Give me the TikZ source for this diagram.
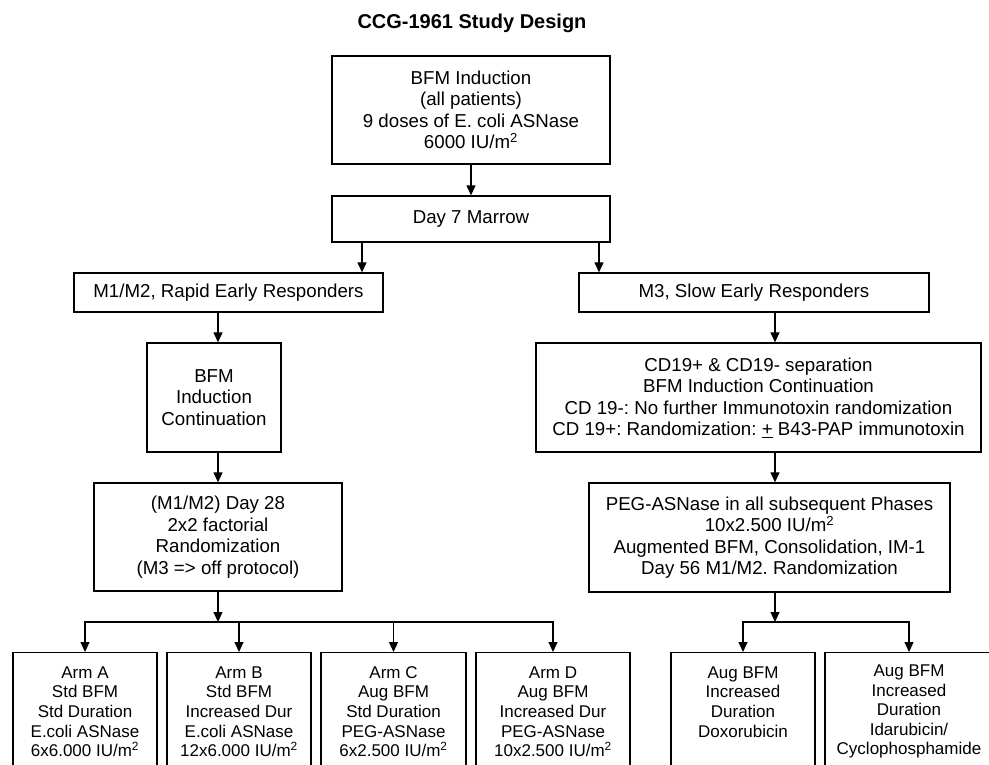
\documentclass[tikz,border=0pt]{standalone}
\usepackage{fontspec}
\setmainfont{Liberation Sans}
\usetikzlibrary{arrows.meta}
\frenchspacing
\newcommand{\upfont}{\fontsize{18.7}{21.5}\selectfont}
\newcommand{\armfont}{\fontsize{17}{19.6}\selectfont}
\newcommand{\sqm}{IU/m\textsuperscript{2}}
\begin{document}
\begin{tikzpicture}[x=1pt,y=-1pt,line width=1.3pt,
  box/.style={draw,align=center,inner sep=0pt,font=\upfont},
  armbox/.style={draw,align=center,inner sep=0pt,anchor=north,minimum width=144pt,minimum height=118pt,font=\armfont},
  arr/.style={-{Triangle[width=9pt,length=10pt]},line width=1.2pt}]
\useasboundingbox (0,0) rectangle (989,765);
\node[font=\fontsize{20}{24}\selectfont\bfseries] (title) at (472,23) {CCG-1961 Study Design};
% induction and marrow
\node[box,minimum width=278pt,minimum height=108pt] (ind) at (471,110) {BFM Induction\\(all patients)\\9 doses of E. coli ASNase\\6000 \sqm};
\node[box,minimum width=278pt,minimum height=46pt] (d7) at (471,219) {Day 7 Marrow};
% left branch
\node[box,minimum width=309pt,minimum height=39pt] (rer) at (228.5,292.5) {M1/M2, Rapid Early Responders};
\node[box,minimum width=134pt,minimum height=109pt] (cont) at (214,397.5) {BFM\\Induction\\Continuation};
\node[box,minimum width=248pt,minimum height=108pt] (d28) at (218,537) {(M1/M2) Day 28\\2x2 factorial\\Randomization\\(M3 => off protocol)};
% right branch
\node[box,minimum width=350pt,minimum height=39pt] (ser) at (754,292.5) {M3, Slow Early Responders};
\node[box,minimum width=445pt,minimum height=109pt] (sep) at (758.5,397.5) {CD19+ \& CD19- separation\\BFM Induction Continuation\\CD 19-: No further Immunotoxin randomization\\CD 19+: Randomization: \underline{+} B43-PAP immunotoxin};
\node[box,minimum width=361pt,minimum height=109pt] (peg) at (769.5,537.5) {PEG-ASNase in all subsequent Phases\\10x2.500 \sqm\\Augmented BFM, Consolidation, IM-1\\Day 56 M1/M2. Randomization};
% arms
\node[armbox] (armA) at (85,652) {Arm A\\Std BFM\\Std Duration\\E.coli ASNase\\6x6.000 \sqm};
\node[armbox] (armB) at (239,652) {Arm B\\Std BFM\\Increased Dur\\E.coli ASNase\\12x6.000 \sqm};
\node[armbox,minimum width=145pt] (armC) at (393.5,652) {Arm C\\Aug BFM\\Std Duration\\PEG-ASNase\\6x2.500 \sqm};
\node[armbox,minimum width=154pt] (armD) at (553,652) {Arm D\\Aug BFM\\Increased Dur\\PEG-ASNase\\10x2.500 \sqm};
\node[armbox] (doxo) at (743,652) {Aug BFM\\Increased\\Duration\\Doxorubicin\\\mbox{}};
\node[armbox,minimum width=168pt] (ida) at (909,652) {Aug BFM\\Increased\\Duration\\Idarubicin/\\Cyclophosphamide};
% connectors
\coordinate (xL) at (362,0);
\coordinate (xR) at (599,0);
\coordinate (xC) at (218,0);
\coordinate (xS) at (775,0);
\coordinate (jL) at (218,622);
\coordinate (jR) at (775,622);
\draw[arr] (ind) -- (d7);
\draw[arr] (d7.south -| xL) -- (rer.north -| xL);
\draw[arr] (d7.south -| xR) -- (ser.north -| xR);
\draw[arr] (rer.south -| xC) -- (cont.north -| xC);
\draw[arr] (cont.south -| xC) -- (d28.north);
\draw[arr] (d28) -- (jL);
\draw[arr] (ser.south -| xS) -- (sep.north -| xS);
\draw[arr] (sep.south -| xS) -- (peg.north -| xS);
\draw[arr] (peg.south -| xS) -- (jR);
\foreach \a in {armA,armB,armC,armD}
  \draw[arr] (jL) -| (\a.north);
\foreach \a in {doxo,ida}
  \draw[arr] (jR) -| (\a.north);
\end{tikzpicture}
\end{document}
